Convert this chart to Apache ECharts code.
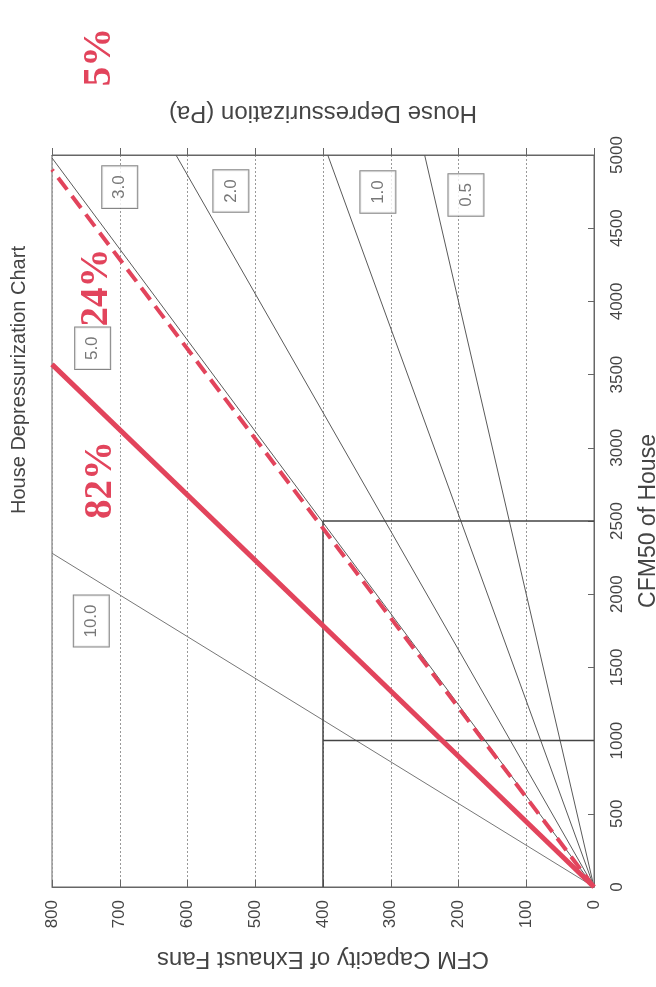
<!DOCTYPE html>
<html>
<head>
<meta charset="utf-8">
<script src="https://cdn.jsdelivr.net/npm/echarts@6/dist/echarts.min.js"></script>
<style>
html,body{margin:0;padding:0;background:#fff;}
#chart{width:656px;height:987px;}
</style>
</head>
<body>
<div id="chart"></div>
<script>
// ---- Data ----
// Constant house-depressurization lines (Pa): end points in [CFM50, exhaust CFM]
const pressureLabels      = ['10.0', '5.0', '3.0', '2.0', '1.0', '0.5'];
const pressureEndCFM50    = [2280, 3570, 4980, 5000, 5000, 5000];
const pressureEndExhaust  = [800, 800, 800, 617, 393, 250];
// Where the boxed pressure labels sit (data units)
const pressureLabelCFM50   = [1817, 3680, 4781, 4754, 4747, 4727];
const pressureLabelExhaust = [742, 740, 700, 536, 319, 189];

// Highlighted (red) lines
const highlightNames       = ['82%', '24%'];
const highlightEndCFM50    = [3570, 4900];
const highlightEndExhaust  = [800, 800];
// Red percentage annotations
const percentLabels        = ['82%', '24%', '5%'];
const percentLabelCFM50    = [2780, 4095, 5670];
const percentLabelExhaust  = [728, 733, 729];

// Guide lines (example reading)
const guideCFM50   = [1000, 2500];
const guideExhaust = 400;

// Axis ranges
const exhaustMin = 0, exhaustMax = 800, exhaustStep = 100;
const cfmMin = 0, cfmMax = 5000, cfmStep = 500;

// ---- Build options ----
const RED = '#e2445c';
const series = [];

pressureLabels.forEach((p, i) => {
  series.push({
    name: p + ' Pa',
    type: 'line',
    symbol: 'none',
    silent: true,
    z: 3,
    lineStyle: { color: i === 0 ? '#777' : '#5a5a5a', width: 1 },
    data: [[0, 0], [pressureEndExhaust[i], pressureEndCFM50[i]]]
  });
});

highlightNames.forEach((n, i) => {
  series.push({
    name: n,
    type: 'line',
    symbol: 'none',
    silent: true,
    z: 5,
    lineStyle: i === 0
      ? { color: RED, width: 5 }
      : { color: RED, width: 4, type: [15, 8] },
    data: [[0, 0], [highlightEndExhaust[i], highlightEndCFM50[i]]]
  });
});

// guide lines
series.push({
  type: 'line', symbol: 'none', silent: true, z: 4,
  lineStyle: { color: '#444', width: 1.5 },
  data: [[guideExhaust, 0], [guideExhaust, guideCFM50[1]], [0, guideCFM50[1]]]
});
series.push({
  type: 'line', symbol: 'none', silent: true, z: 4,
  lineStyle: { color: '#444', width: 1.5 },
  data: [[guideExhaust, guideCFM50[0]], [0, guideCFM50[0]]]
});

// boxed pressure labels
series.push({
  type: 'scatter',
  symbolSize: 1,
  silent: true,
  z: 6,
  itemStyle: { color: 'rgba(0,0,0,0)' },
  label: {
    show: true,
    position: 'inside',
    rotate: 90,
    formatter: p => p.name,
    fontFamily: 'Liberation Sans',
    fontSize: 17,
    color: '#555',
    textBorderWidth: 0,
    backgroundColor: '#fff',
    borderColor: '#666',
    borderWidth: 1,
    padding: [9, 9]
  },
  data: pressureLabels.map((p, i) => ({ name: p, value: [pressureLabelExhaust[i], pressureLabelCFM50[i]] }))
});

// red percentage labels
series.push({
  type: 'scatter',
  symbolSize: 1,
  silent: true,
  clip: false,
  z: 7,
  itemStyle: { color: RED, opacity: 0 },
  label: {
    show: true,
    position: 'inside',
    rotate: 90,
    formatter: p => p.name,
    fontFamily: 'Liberation Serif',
    fontWeight: 'bold',
    fontSize: 39,
    color: RED,
    opacity: 1,
    textBorderWidth: 0
  },
  data: percentLabels.map((p, i) => ({ name: p, value: [percentLabelExhaust[i], percentLabelCFM50[i]] }))
});

const axisFont = { fontFamily: 'Liberation Sans', color: '#444' };

const option = {
  animation: false,
  backgroundColor: '#fff',
  grid: {
    left: 52, right: 62, top: 155, bottom: 100,
    outerBoundsMode: 'none',
    containLabel: false,
    show: true, borderColor: '#666', borderWidth: 1, backgroundColor: 'transparent'
  },
  graphic: [{
    type: 'text',
    x: 19, y: 380,
    rotation: Math.PI / 2,
    style: {
      text: 'House Depressurization Chart',
      fontFamily: 'Liberation Sans',
      fontSize: 20,
      fill: '#444',
      align: 'center',
      verticalAlign: 'middle'
    }
  }],
  xAxis: [{
    type: 'value',
    min: exhaustMin, max: exhaustMax, interval: exhaustStep,
    inverse: true,
    position: 'bottom',
    axisLine: { show: true, onZero: false, lineStyle: { color: '#666' } },
    axisTick: { show: true, inside: true, length: 7, lineStyle: { color: '#666' } },
    axisLabel: Object.assign({ rotate: 90, fontSize: 17, margin: 13, formatter: v => String(v) }, axisFont),
    splitLine: { show: true, lineStyle: { type: [2, 2], color: '#999', width: 1 } },
    name: 'CFM Capacity of Exhaust Fans',
    nameLocation: 'middle',
    nameRotate: 180,
    nameGap: 60,
    nameTextStyle: Object.assign({ fontSize: 24 }, axisFont)
  }, {
    type: 'value',
    min: exhaustMin, max: exhaustMax, interval: exhaustStep,
    inverse: true,
    position: 'top',
    axisLine: { show: true, onZero: false, lineStyle: { color: '#666' } },
    axisTick: { show: true, inside: false, length: 7, lineStyle: { color: '#666' } },
    axisLabel: { show: false },
    splitLine: { show: false },
    name: 'House Depressurization (Pa)',
    nameLocation: 'middle',
    nameRotate: 180,
    nameGap: 30,
    nameTextStyle: Object.assign({ fontSize: 24 }, axisFont)
  }],
  yAxis: [{
    type: 'value',
    min: cfmMin, max: cfmMax, interval: cfmStep,
    position: 'right',
    axisLine: { show: true, onZero: false, lineStyle: { color: '#666' } },
    axisTick: { show: true, inside: true, length: 6, lineStyle: { color: '#666' } },
    axisLabel: Object.assign({ rotate: 90, fontSize: 17, margin: 15, formatter: v => String(v) }, axisFont),
    splitLine: { show: false },
    name: 'CFM50 of House',
    nameLocation: 'middle',
    nameRotate: 90,
    nameGap: 43,
    nameTextStyle: Object.assign({ fontSize: 23 }, axisFont)
  }],
  series: series
};

const chart = echarts.init(document.getElementById('chart'), null, { renderer: 'canvas' });
chart.setOption(option);
</script>
</body>
</html>
